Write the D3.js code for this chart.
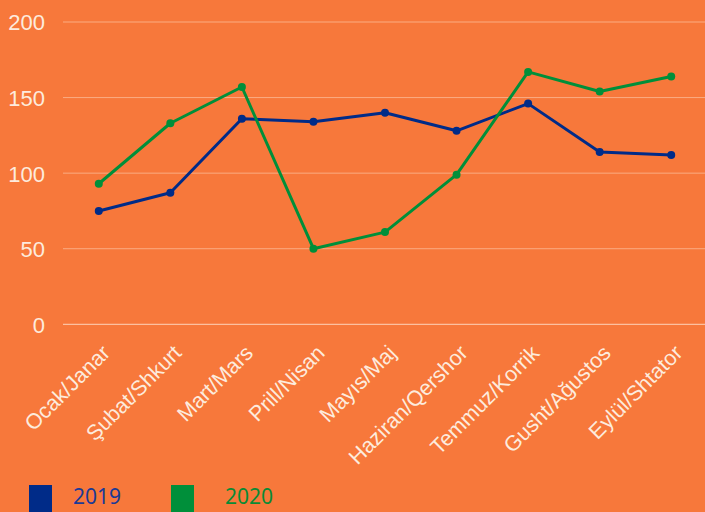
<!DOCTYPE html>
<html>
<head>
<meta charset="utf-8">
<script src="https://cdn.jsdelivr.net/npm/d3@7"></script>
<style>
  html, body { margin: 0; padding: 0; background: #F7783B; }
  svg { display: block; }
</style>
</head>
<body>
<svg id="chart" width="705" height="512"></svg>
<script>
const categories = ["Ocak/Janar", "Şubat/Shkurt", "Mart/Mars", "Prill/Nisan", "Mayıs/Maj", "Haziran/Qershor", "Temmuz/Korrik", "Gusht/Ağustos", "Eylül/Shtator"];
const series2019 = [75, 87, 136, 134, 140, 128, 146, 114, 112];
const series2020 = [93, 133, 157, 50, 61, 99, 167, 154, 164];
const seriesNames = ["2019", "2020"];
const yTicks = [0, 50, 100, 150, 200];

const colors = { "2019": "#002B88", "2020": "#008F3A" };
const textColor = "#FDEBDD";
const W = 705, H = 512;
const margin = { left: 63, right: -2, top: 22, bottom: 188 };

const svg = d3.select("#chart");
svg.append("rect").attr("width", W).attr("height", H).attr("fill", "#F7783B");

const x = d3.scalePoint().domain(categories).range([margin.left, W - margin.right]).padding(0.5);
const y = d3.scaleLinear().domain([0, 200]).range([324.3, 22]);

// grid
const grid = svg.append("g");
grid.selectAll("line").data(yTicks).join("line")
  .attr("x1", margin.left).attr("x2", W)
  .attr("y1", d => y(d)).attr("y2", d => y(d))
  .attr("stroke", d => d === 0 ? "rgba(255,240,230,0.75)" : "rgba(255,235,220,0.45)")
  .attr("stroke-width", 1);

// y axis labels
const yAxis = d3.axisLeft(y).tickValues(yTicks).tickSize(0).tickPadding(0);
const gy = svg.append("g").attr("transform", "translate(45,0)").call(yAxis);
gy.select(".domain").remove();
gy.selectAll("text").attr("fill", textColor).attr("font-family", "Liberation Sans, Arial, sans-serif").attr("font-size", 22).attr("dy", "0.36em");

// x axis labels
const xAxis = d3.axisBottom(x).tickSize(0).tickPadding(0);
const gx = svg.append("g").attr("transform", "translate(0,324.3)").call(xAxis);
gx.select(".domain").remove();
gx.selectAll("text")
  .attr("fill", textColor)
  .attr("font-family", "Liberation Sans, Arial, sans-serif")
  .attr("font-size", 21.5)
  .attr("text-anchor", "end")
  .attr("dy", 0)
  .attr("y", 0)
  .attr("transform", "translate(12,30) rotate(-45)");

// lines
const data = { "2019": series2019, "2020": series2020 };
const line = d3.line().x((d, i) => x(categories[i])).y(d => y(d));
seriesNames.forEach(name => {
  const g = svg.append("g");
  g.append("path").datum(data[name]).attr("d", line)
    .attr("fill", "none").attr("stroke", colors[name]).attr("stroke-width", 3).attr("stroke-linejoin", "round");
  g.selectAll("circle").data(data[name]).join("circle")
    .attr("cx", (d, i) => x(categories[i])).attr("cy", d => y(d)).attr("r", 4)
    .attr("fill", colors[name]);
});

// legend
const legend = svg.append("g");
const legX = [29, 171];
const legTextX = [73, 225];
seriesNames.forEach((name, i) => {
  legend.append("rect").attr("x", legX[i]).attr("y", 485).attr("width", 23).attr("height", 30).attr("fill", colors[name]);
  legend.append("text").attr("x", legTextX[i]).attr("y", 504)
    .attr("fill", name === "2019" ? "#1A3A96" : "#0A8A35")
    .attr("font-family", "Noto Sans, Open Sans, sans-serif").attr("font-size", 21)
    .text(name);
});
</script>
</body>
</html>
